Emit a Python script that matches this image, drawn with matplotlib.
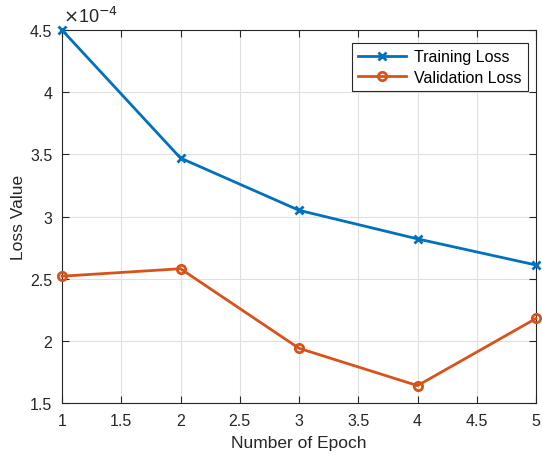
import numpy as np
import matplotlib.pyplot as plt

plt.rcParams['font.family'] = ['Liberation Sans', 'DejaVu Sans']

epochs = [1, 2, 3, 4, 5]
train_loss = [4.50, 3.47, 3.05, 2.82, 2.61]   # x 1e-4
val_loss = [2.52, 2.58, 1.94, 1.64, 2.18]     # x 1e-4

fig = plt.figure(figsize=(5.42, 4.56), dpi=100)
ax = fig.add_axes([0.1144, 0.114, 0.8746, 0.818])

ax.plot(epochs, train_loss, color='#0072BD', lw=2, marker='x', ms=6, mew=2,
        label='Training Loss', clip_on=False, zorder=3)
ax.plot(epochs, val_loss, color='#D95319', lw=2, marker='o', ms=6, mew=2,
        mfc='none', label='Validation Loss', clip_on=False, zorder=3)

ax.set_xlim(1, 5)
ax.set_ylim(1.5, 4.5)
ax.set_xticks(np.arange(1, 5.01, 0.5))
ax.set_xticklabels(['1', '1.5', '2', '2.5', '3', '3.5', '4', '4.5', '5'])
ax.set_yticks(np.arange(1.5, 4.51, 0.5))
ax.set_yticklabels(['1.5', '2', '2.5', '3', '3.5', '4', '4.5'])

ax.grid(True, color='#e0e0e0', lw=0.8)
ax.set_axisbelow(True)
ax.tick_params(direction='in', top=True, right=True, labelsize=11.5,
               colors='#262626', length=5)
ax.tick_params(axis='x', pad=7)
ax.tick_params(axis='y', pad=7)
for s in ax.spines.values():
    s.set_color('#262626')
    s.set_linewidth(0.8)

ax.set_xlabel('Number of Epoch', fontsize=12.5, color='#262626', labelpad=5)
ax.set_ylabel('Loss Value', fontsize=12.5, color='#262626', labelpad=3)

ax.text(0.003, 1.012, r'$\times$10$^{-4}$', transform=ax.transAxes,
        fontsize=13, color='#262626', ha='left', va='bottom')

leg = ax.legend(loc='upper right', bbox_to_anchor=(0.983, 0.965), fontsize=11.5,
                fancybox=False, edgecolor='#262626', framealpha=1,
                handlelength=3.0, borderpad=0.4, labelspacing=0.35,
                handletextpad=0.5, borderaxespad=0)
leg.get_frame().set_linewidth(0.8)

fig.savefig('out.png', dpi=100)
